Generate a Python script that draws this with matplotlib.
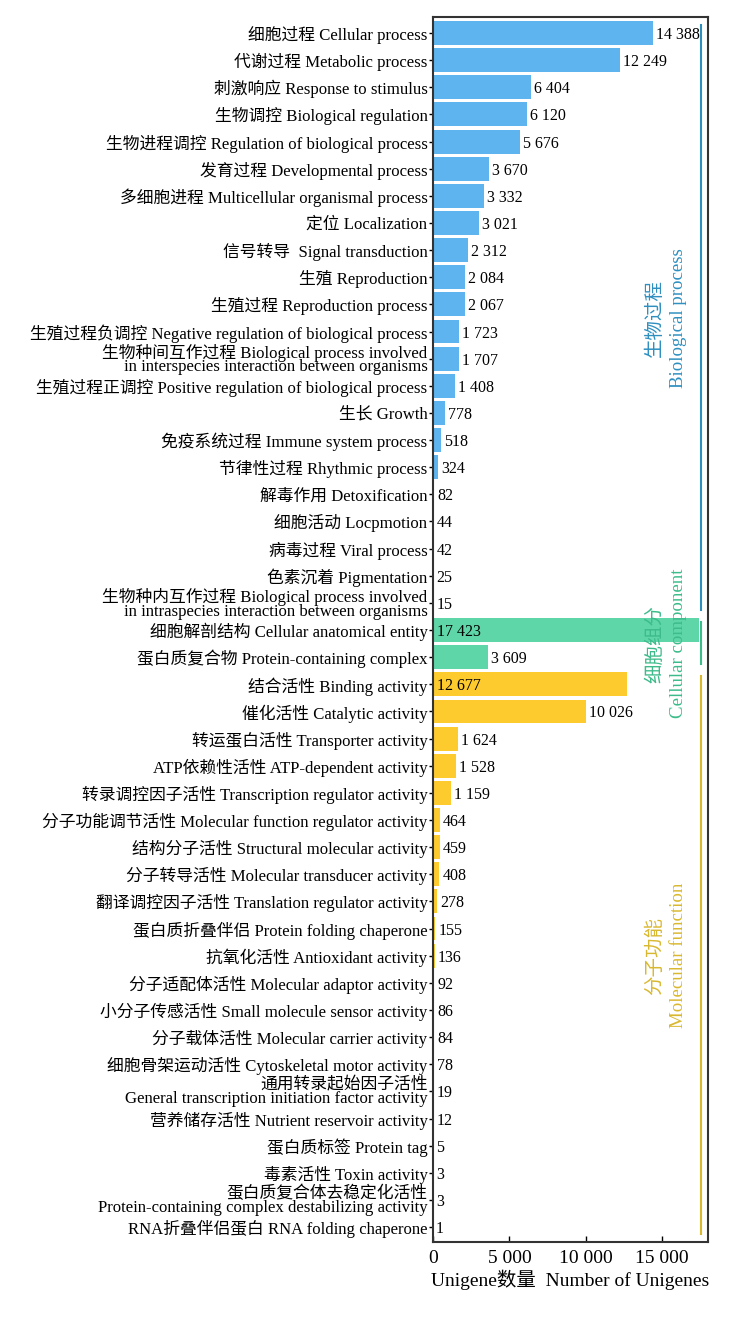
import matplotlib.pyplot as plt
import numpy as np

plt.rcParams['font.family'] = ['Liberation Serif', 'Noto Sans CJK SC']

# GO categories, top to bottom
bp_labels = [
    "细胞过程 Cellular process",
    "代谢过程 Metabolic process",
    "刺激响应 Response to stimulus",
    "生物调控 Biological regulation",
    "生物进程调控 Regulation of biological process",
    "发育过程 Developmental process",
    "多细胞进程 Multicellular organismal process",
    "定位 Localization",
    "信号转导  Signal transduction",
    "生殖 Reproduction",
    "生殖过程 Reproduction process",
    "生殖过程负调控 Negative regulation of biological process",
    "生物种间互作过程 Biological process involved\nin interspecies interaction between organisms",
    "生殖过程正调控 Positive regulation of biological process",
    "生长 Growth",
    "免疫系统过程 Immune system process",
    "节律性过程 Rhythmic process",
    "解毒作用 Detoxification",
    "细胞活动 Locpmotion",
    "病毒过程 Viral process",
    "色素沉着 Pigmentation",
    "生物种内互作过程 Biological process involved\nin intraspecies interaction between organisms",
]
bp_values = [14388, 12249, 6404, 6120, 5676, 3670, 3332, 3021, 2312, 2084, 2067,
             1723, 1707, 1408, 778, 518, 324, 82, 44, 42, 25, 15]

cc_labels = [
    "细胞解剖结构 Cellular anatomical entity",
    "蛋白质复合物 Protein-containing complex",
]
cc_values = [17423, 3609]

mf_labels = [
    "结合活性 Binding activity",
    "催化活性 Catalytic activity",
    "转运蛋白活性 Transporter activity",
    "ATP依赖性活性 ATP-dependent activity",
    "转录调控因子活性 Transcription regulator activity",
    "分子功能调节活性 Molecular function regulator activity",
    "结构分子活性 Structural molecular activity",
    "分子转导活性 Molecular transducer activity",
    "翻译调控因子活性 Translation regulator activity",
    "蛋白质折叠伴侣 Protein folding chaperone",
    "抗氧化活性 Antioxidant activity",
    "分子适配体活性 Molecular adaptor activity",
    "小分子传感活性 Small molecule sensor activity",
    "分子载体活性 Molecular carrier activity",
    "细胞骨架运动活性 Cytoskeletal motor activity",
    "通用转录起始因子活性\nGeneral transcription initiation factor activity",
    "营养储存活性 Nutrient reservoir activity",
    "蛋白质标签 Protein tag",
    "毒素活性 Toxin activity",
    "蛋白质复合体去稳定化活性\nProtein-containing complex destabilizing activity",
    "RNA折叠伴侣蛋白 RNA folding chaperone",
]
mf_values = [12677, 10026, 1624, 1528, 1159, 464, 459, 408, 278, 155, 136, 92, 86,
             84, 78, 19, 12, 5, 3, 3, 1]

groups = [
    ("生物过程", "Biological process", bp_labels, bp_values, '#5db4ee', '#2e8fbf'),
    ("细胞组分", "Cellular component", cc_labels, cc_values, '#5ed6a8', '#3dbb8a'),
    ("分子功能", "Molecular function", mf_labels, mf_values, '#fdcb2e', '#d9b830'),
]

fig = plt.figure(figsize=(7.31, 13.18), dpi=100)
ax = fig.add_axes([433 / 731, 1 - 1242 / 1318, 275 / 731, 1225 / 1318])

labels, values, colors = [], [], []
for zh, en, lab, val, bc, tc in groups:
    labels += lab
    values += val
    colors += [bc] * len(val)

n = len(values)
ypos = np.arange(n)
ax.barh(ypos, values, height=0.88, color=colors)

# value labels (the two longest go inside the bar)
for y, v in zip(ypos, values):
    txt = "{:,}".format(v).replace(",", " ")
    if v > 12500 and v != 14388:
        ax.text(250, y, txt, va='center_baseline', ha='left', fontsize=11.5)
    else:
        ax.text(v + 200, y, txt, va='center_baseline', ha='left', fontsize=11.5)

ax.set_yticks(ypos)
ax.set_yticklabels(labels, fontsize=12.1, linespacing=0.8)
ax.set_ylim(n - 1 + 0.55, -0.59)
ax.set_xlim(0, 18000)
ax.set_xticks([0, 5000, 10000, 15000])
ax.set_xticklabels(["0", "5 000", "10 000", "15 000"], fontsize=14)
ax.set_xlabel("Unigene数量  Number of Unigenes", fontsize=14, labelpad=2)
ax.tick_params(axis='y', direction='out', length=3, width=1, pad=1)
ax.tick_params(axis='x', direction='in', length=4, width=1, pad=6)
for sp in ax.spines.values():
    sp.set_linewidth(1.5)
    sp.set_color('#333333')

# group brackets and names on the right
start = 0
for zh, en, lab, val, bc, tc in groups:
    end = start + len(val) - 1
    ax.plot([17550, 17550], [start - 0.3, end + 0.25], color=tc, lw=1.5, clip_on=False)
    yc = (start + end) / 2
    ax.text(14530, yc, zh, rotation=90, va='center', ha='center', color=tc, fontsize=14)
    ax.text(16100, yc, en, rotation=90, va='center', ha='center', color=tc, fontsize=13.6)
    start = end + 1

fig.savefig("out.png", dpi=100)
